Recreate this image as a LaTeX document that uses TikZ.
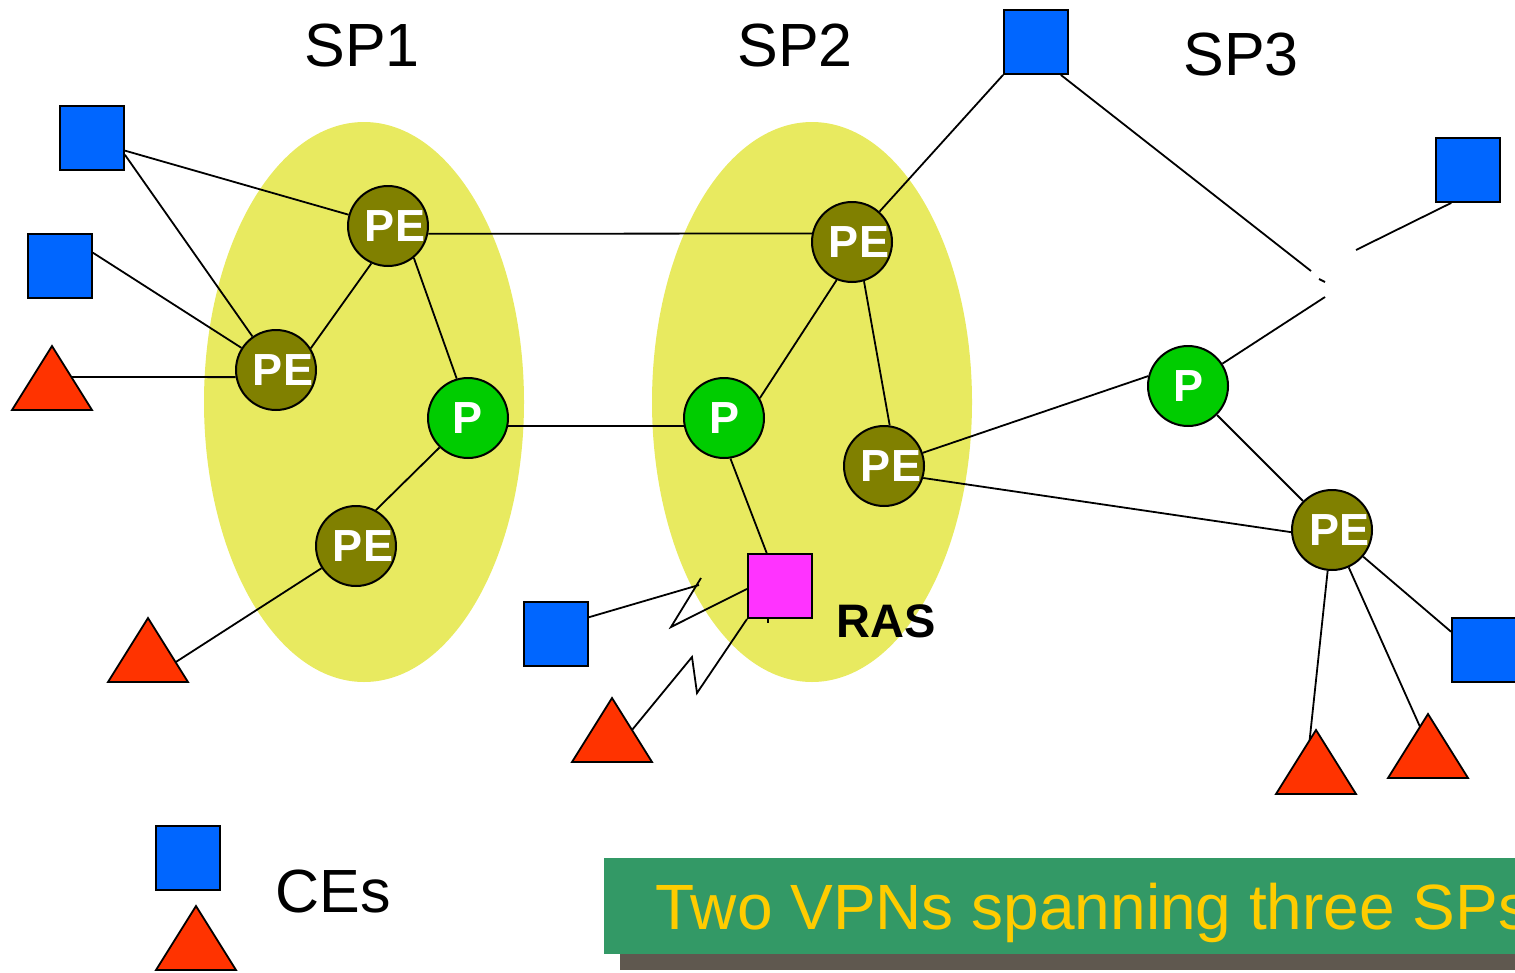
\documentclass[tikz,border=0pt]{standalone}
\usepackage{fontspec}
\setmainfont{Liberation Sans}
\usetikzlibrary{calc}
\pgfdeclarelayer{bg}
\pgfdeclarelayer{links}
\pgfsetlayers{bg,links,main}
\definecolor{spyellow}{RGB}{232,234,96}
\definecolor{peolive}{RGB}{128,128,0}
\definecolor{pgreen}{RGB}{0,204,0}
\definecolor{ceblue}{RGB}{0,102,255}
\definecolor{cered}{RGB}{255,51,0}
\definecolor{rasmag}{RGB}{255,51,255}
\definecolor{bangreen}{RGB}{51,153,102}
\definecolor{banyellow}{RGB}{255,204,0}
\definecolor{banshadow}{RGB}{95,88,79}
\newcommand\cetri[3]{%
  \coordinate (#1-a) at (#2,#3);
  \coordinate (#1-l) at (#2-40,#3+64);
  \coordinate (#1-r) at (#2+40,#3+64);
  \draw[tri] (#1-a) -- (#1-l) -- (#1-r) -- cycle;}
\begin{document}
\begin{tikzpicture}[x=1pt,y=-1pt,
  link/.style={line width=1.8pt},
  router/.style={circle,draw=black,line width=2pt,minimum size=80pt,inner sep=0pt},
  pe/.style={router,fill=peolive,label={[text=white,font=\fontsize{45}{50}\selectfont\bfseries,xshift=7pt]center:PE}},
  pn/.style={router,fill=pgreen,label={[text=white,font=\fontsize{45}{50}\selectfont\bfseries]center:P}},
  ce/.style={rectangle,draw=black,line width=1.8pt,fill=ceblue,minimum size=64pt,inner sep=0pt},
  rasbox/.style={rectangle,draw=black,line width=2pt,fill=rasmag,minimum size=64pt,inner sep=0pt},
  tri/.style={draw=black,line width=1.8pt,fill=cered,line join=miter},
  bigtext/.style={font=\fontsize{61}{70}\selectfont,anchor=base},
]
\useasboundingbox (0,0) rectangle (1515,972);

% service provider ellipses
\begin{pgfonlayer}{bg}
\fill[spyellow] (364,402) ellipse [x radius=160, y radius=280];
\fill[spyellow] (812,402) ellipse [x radius=160, y radius=280];
\end{pgfonlayer}

% labels
\node[bigtext] (sp1) at (362,66) {SP1};
\node[bigtext] (sp2) at (795,66) {SP2};
\node[bigtext] (sp3) at (1241,75) {SP3};

% routers
\node[pe] (pe1a) at (388,226) {};
\node[pe] (pe1b) at (276,370) {};
\node[pn] (p1)   at (468,418) {};
\node[pe] (pe1c) at (356,546) {};
\node[pe] (pe2a) at (852,242) {};
\node[pn] (p2)   at (724,418) {};
\node[pe] (pe2b) at (884,466) {};
\node[pn] (p3)   at (1188,386) {};
\node[pe] (pe3)  at (1332,530) {};
\node[rasbox] (ras) at (780,586) {};
\node[font=\fontsize{47}{52}\selectfont\bfseries,anchor=base] (raslbl) at (886,637) {RAS};

% CEs (squares)
\node[ce] (ce1) at (92,138) {};
\node[ce] (ce2) at (60,266) {};
\node[ce] (ce3) at (1036,42) {};
\node[ce] (ce4) at (1468,170) {};
\node[ce] (ce5) at (556,634) {};
\node[ce] (cer) at (1484,650) {};
\node[ce] (celeg) at (188,858) {};

% CEs (triangles)
\cetri{t1}{52}{346}
\cetri{t2}{148}{618}
\cetri{t5}{612}{698}
\cetri{t6}{1316}{730}
\cetri{t7}{1428}{714}
\cetri{tleg}{196}{906}

\node[bigtext] (ceslbl) at (333,912) {CEs};

% hidden hub and zigzag points
\coordinate (hubA) at (1311,271);
\coordinate (hubB) at (1325,297);
\coordinate (hubC) at (1356,250);
\coordinate (hubD) at (1319,279);
\coordinate (hubE) at (1325,282);
\coordinate (z1) at (699,585);
\coordinate (z2) at (701,578);
\coordinate (z3) at (671,627);
\coordinate (z4) at (692,657);
\coordinate (z5) at (697,693);

\begin{pgfonlayer}{links}
\draw[link] (ce1.-21) -- (pe1a);
\draw[link] (ce1.-27) -- (pe1b);
\draw[link] (ce2.22) -- (pe1b);
\draw[link] ($(t1-a)!0.484!(t1-r)$) -- (pe1b.190);
\draw[link] (pe1a.-114) -- (pe1b.32);
\draw[link] (pe1a.-51) -- (p1.106);
\draw[link] (pe1a.-11.5) -- (pe2a.168.5);
\draw[link] (p1.-11.5) -- (p2.191.5);
\draw[link] (p1.-134) -- (pe1c.61);
\draw[link] ($(t2-a)!0.69!(t2-r)$) -- (pe1c);
\draw[link] (pe2a.-112) -- (p2.29);
\draw[link] (pe2a.-73) -- (pe2b.82);
\draw[link] (ce3.south west) -- (pe2a);
\draw[link] (p2.-81.5) -- (ras.112);
\draw[link] ([xshift=-12pt]ras.south) -- ++(0,4);
\draw[link] (pe2b) -- (p3.166);
\draw[link] (pe2b.-17) -- (pe3.183);
\draw[link] (p3) -- (pe3);
\draw[link] (pe3) -- (cer.151);
\draw[link] (pe3) -- ($(t6-a)!0.16!(t6-l)$);
\draw[link] (pe3) -- ($(t7-a)!0.2!(t7-l)$);
\draw[link] (ce3.-53) -- (hubA);
\draw[link] (hubD) -- (hubE);
\draw[link] (p3) -- (hubB);
\draw[link] (ce4.-117) -- (hubC);
\draw[link] (ce5.27) -- (z1);
\draw[link] (z2) -- (z3) -- (ras.185);
\draw[link] ($(t5-a)!0.5!(t5-r)$) -- (z4) -- (z5) -- (ras.south west);
\end{pgfonlayer}

% banner
\fill[banshadow] (620,874) rectangle (1530,970);
\fill[bangreen] (604,858) rectangle (1530,954);
\node[anchor=base west,text=banyellow,font=\fontsize{64}{70}\selectfont,inner sep=0pt] (title) at (655,929) {Two VPNs spanning three SPs};
\end{tikzpicture}
\end{document}
